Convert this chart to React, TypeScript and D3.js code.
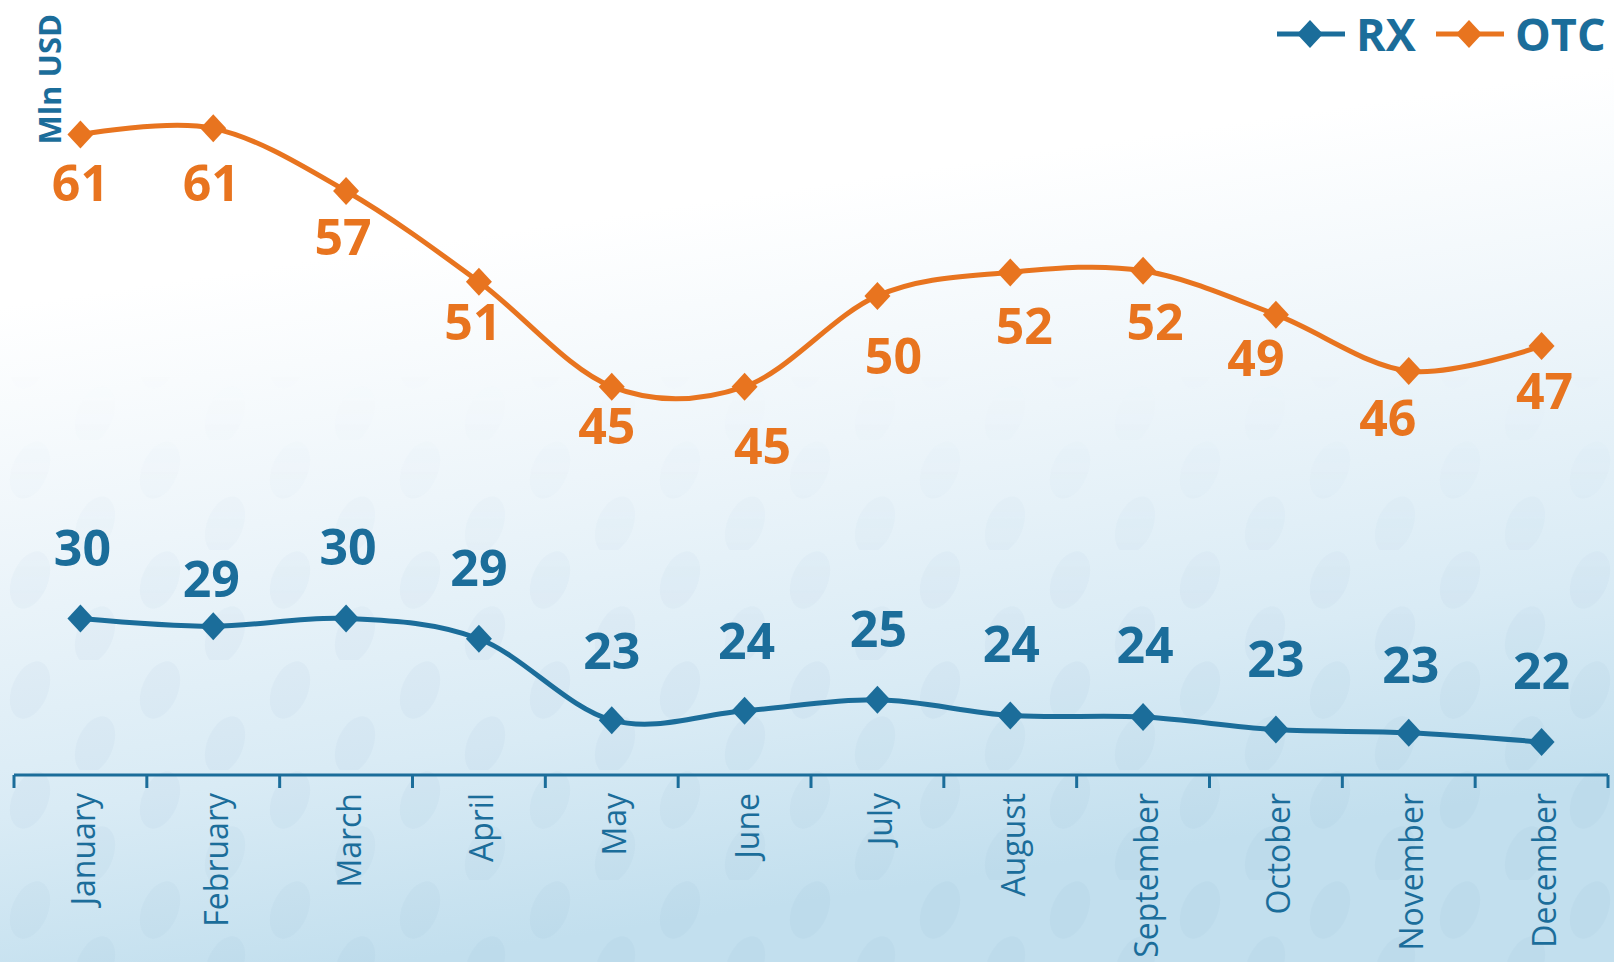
import React, { useRef, useEffect } from 'react';
import * as d3 from 'd3';

const months = ['January', 'February', 'March', 'April', 'May', 'June', 'July', 'August', 'September', 'October', 'November', 'December'];
const rxValues = [29.8, 29.3, 29.8, 28.5, 23.3, 23.9, 24.6, 23.6, 23.5, 22.7, 22.5, 21.9];
const otcValues = [60.7, 61.1, 57.1, 51.3, 44.6, 44.6, 50.4, 51.9, 52.0, 49.2, 45.6, 47.2];
const seriesNames = ['RX', 'OTC'];
const yAxisTitle = 'Mln USD';

// hand-placed data labels in the source chart: [dx, dy] from the marker
const rxLabelShift = [[2, -70], [-2, -47], [2, -71], [0, -71], [0, -69], [2, -70], [1, -71], [1, -72], [2, -72], [0, -71], [2, -68], [0, -71]];
const otcLabelShift = [[0, 48], [-2, 55], [-3, 46], [-6, 40], [-5, 39], [18, 59], [16, 60], [14, 54], [12, 51], [-20, 43], [-21, 47], [3, 45]];

const W = 1614;
const H = 962;
const BLUE = '#1b6d9a';
const ORANGE = '#e8741f';
const FONT = '"Open Sans", "Noto Sans", sans-serif';

const diamond = (w: number, h: number) => `M0,${-h}L${w},0L0,${h}L${-w},0Z`;

const App = () => {
  const svgRef = useRef<SVGSVGElement>(null);

  useEffect(() => {
    const svg = d3.select(svgRef.current);
    svg.selectAll('*').remove();

    const axisY = 775;
    const x = d3.scaleBand<string>().domain(months).range([14, 1608]).padding(0);
    const y = d3.scaleLinear().domain([19.8, 70]).range([axisY, -11]);
    const cx = (m: string) => (x(m) ?? 0) + x.bandwidth() / 2;

    // background: white top fading into pale blue with a faint capsule pattern
    const defs = svg.append('defs');
    const bg = defs.append('linearGradient').attr('id', 'bg').attr('x1', 0).attr('y1', 0).attr('x2', 0.25).attr('y2', 1);
    bg.append('stop').attr('offset', '0.3').attr('stop-color', '#ffffff');
    bg.append('stop').attr('offset', '0.55').attr('stop-color', '#edf5fa');
    bg.append('stop').attr('offset', '0.8').attr('stop-color', '#d9ebf5');
    bg.append('stop').attr('offset', '1').attr('stop-color', '#c2dfee');

    const fade = defs.append('linearGradient').attr('id', 'fade').attr('x1', 0).attr('y1', 0).attr('x2', 0).attr('y2', 1);
    fade.append('stop').attr('offset', '0.38').attr('stop-color', '#000');
    fade.append('stop').attr('offset', '0.65').attr('stop-color', '#fff');
    fade.append('stop').attr('offset', '1').attr('stop-color', '#fff');
    defs.append('mask').attr('id', 'fadeMask')
      .append('rect').attr('width', W).attr('height', H).attr('fill', 'url(#fade)');

    const pat = defs.append('pattern').attr('id', 'pills')
      .attr('patternUnits', 'userSpaceOnUse').attr('width', 130).attr('height', 110);
    [[30, 30], [95, 85]].forEach(([px, py]) => {
      pat.append('ellipse').attr('cx', px).attr('cy', py).attr('rx', 18).attr('ry', 30)
        .attr('transform', `rotate(22,${px},${py})`).attr('fill', '#5b8fb0').attr('opacity', 0.045);
    });

    svg.append('rect').attr('width', W).attr('height', H).attr('fill', 'url(#bg)');
    svg.append('rect').attr('width', W).attr('height', H).attr('fill', 'url(#pills)').attr('mask', 'url(#fadeMask)');

    // axis with ticks between categories
    const g = svg.append('g');
    g.append('line').attr('x1', 14).attr('x2', 1608).attr('y1', axisY).attr('y2', axisY)
      .attr('stroke', BLUE).attr('stroke-width', 3);
    d3.range(months.length + 1).forEach(i => {
      const tx = 14 + i * x.step();
      g.append('line').attr('x1', tx).attr('x2', tx).attr('y1', axisY).attr('y2', axisY + 13)
        .attr('stroke', BLUE).attr('stroke-width', 3);
    });
    months.forEach(m => {
      g.append('text')
        .attr('transform', `translate(${cx(m) + 3},793) rotate(-90)`)
        .attr('text-anchor', 'end').attr('dy', '0.36em')
        .attr('font-family', FONT).attr('font-size', 32).attr('fill', BLUE)
        .text(m);
    });

    // y title
    svg.append('text')
      .attr('transform', 'translate(61,14) rotate(-90)')
      .attr('text-anchor', 'end')
      .attr('font-family', FONT).attr('font-weight', 700).attr('font-size', 31).attr('fill', BLUE)
      .text(yAxisTitle);

    const line = d3.line<number>()
      .x((_, i) => cx(months[i]))
      .y(d => y(d))
      .curve(d3.curveCatmullRom.alpha(0));

    const drawSeries = (values: number[], color: string, shifts: number[][], textColor: string) => {
      const s = svg.append('g');
      s.append('path').datum(values).attr('d', line)
        .attr('fill', 'none').attr('stroke', color).attr('stroke-width', 5);
      s.selectAll('path.mk').data(values).join('path').attr('class', 'mk')
        .attr('d', diamond(13, 14))
        .attr('transform', (d, i) => `translate(${cx(months[i])},${y(d)})`)
        .attr('fill', color);
      s.selectAll('text').data(values).join('text')
        .attr('x', (d, i) => cx(months[i]) + shifts[i][0])
        .attr('y', (d, i) => y(d) + shifts[i][1])
        .attr('dy', '0.36em').attr('text-anchor', 'middle')
        .attr('font-family', FONT).attr('font-weight', 700).attr('font-size', 50)
        .attr('fill', textColor)
        .text(d => Math.round(d));
    };
    drawSeries(otcValues, ORANGE, otcLabelShift, ORANGE);
    drawSeries(rxValues, BLUE, rxLabelShift, BLUE);

    // legend
    const legend = [
      { name: seriesNames[0], color: BLUE, x0: 1277 },
      { name: seriesNames[1], color: ORANGE, x0: 1436 },
    ];
    legend.forEach(l => {
      svg.append('line').attr('x1', l.x0).attr('x2', l.x0 + 68).attr('y1', 34).attr('y2', 34)
        .attr('stroke', l.color).attr('stroke-width', 5);
      svg.append('path').attr('d', diamond(13, 14)).attr('transform', `translate(${l.x0 + 33},34)`).attr('fill', l.color);
      svg.append('text').attr('x', l.x0 + 79).attr('y', 51)
        .attr('font-family', FONT).attr('font-weight', 700).attr('font-size', 45).attr('fill', BLUE)
        .text(l.name);
    });
  }, []);

  return (
    <svg ref={svgRef} width={W} height={H}
      style={{ position: 'absolute', left: 0, top: 0, display: 'block' }} />
  );
};

export default App;
